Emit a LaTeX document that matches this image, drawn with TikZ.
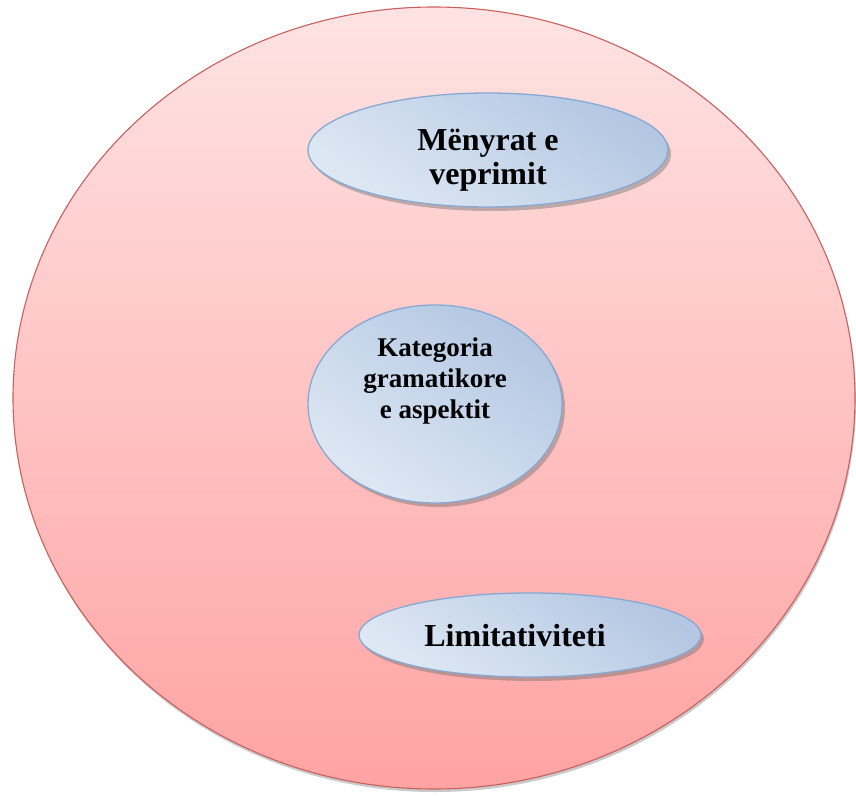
\documentclass[tikz,border=0pt]{standalone}
\usepackage{fontspec}
\setmainfont{Liberation Serif}
\usetikzlibrary{shapes.geometric,shadows}
\definecolor{outerline}{HTML}{C9605E}
\definecolor{outertop}{HTML}{FFE3E3}
\definecolor{outerbot}{HTML}{FFA3A3}
\definecolor{innerline}{HTML}{86A9D4}
\definecolor{innerlight}{HTML}{DEE8F4}
\definecolor{innerdark}{HTML}{B3C7E2}
\tikzset{
  outerdisc/.style={ellipse, draw=outerline, line width=1.1pt, inner sep=0pt,
    top color=outertop, bottom color=outerbot,
    drop shadow={shadow xshift=1pt, shadow yshift=-3pt, opacity=0.35, fill=black!60}},
  bubble/.style={ellipse, draw=innerline, line width=1.3pt, inner sep=0pt,
    left color=innerdark, right color=innerlight, shading angle=-35,
    drop shadow={shadow xshift=3pt, shadow yshift=-4pt, opacity=0.45, fill=black!55}},
  bubbletext/.style={align=center, font=\bfseries, text=black, inner sep=0pt}
}
\begin{document}
\begin{tikzpicture}[x=1pt, y=-1pt]
  \useasboundingbox (0,0) rectangle (856,795);
  % outer field
  \node[outerdisc, minimum width=842pt, minimum height=782pt] (field) at (434,398) {};
  % the three inner ellipses
  \node[bubble, minimum width=360pt, minimum height=114pt] (modes) at (488,150) {};
  \node[bubble, minimum width=254pt, minimum height=198pt] (category) at (435,404) {};
  \node[bubble, minimum width=342pt, minimum height=84pt] (limit) at (530,635) {};
  % labels
  \node[bubbletext, font=\fontsize{32}{34}\selectfont\bfseries] (modestext) at (488,160) {Mënyrat e\\veprimit};
  \node[bubbletext, font=\fontsize{27}{31}\selectfont\bfseries] (categorytext) at (435,381) {Kategoria\\gramatikore\\e aspektit};
  \node[bubbletext, font=\fontsize{32}{34}\selectfont\bfseries] (limittext) at (515,636) {Limitativiteti};
\end{tikzpicture}
\end{document}
